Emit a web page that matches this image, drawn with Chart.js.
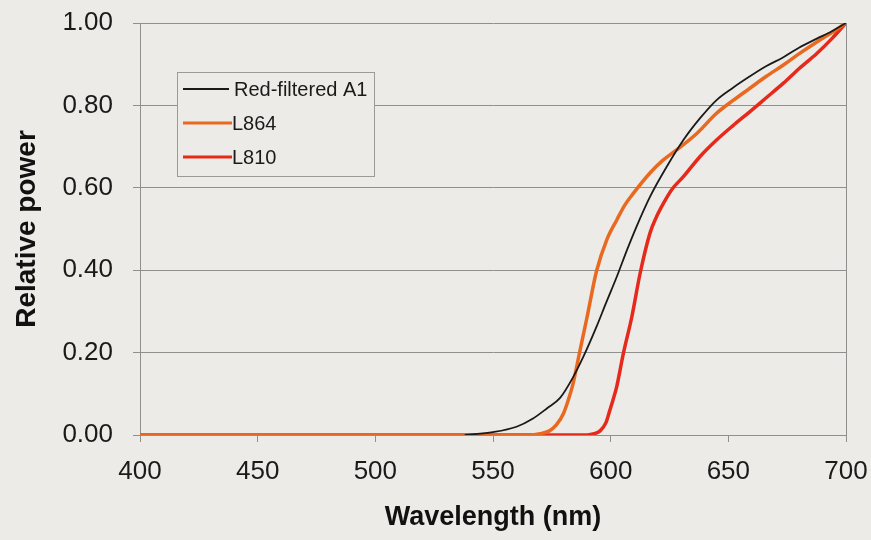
<!DOCTYPE html>
<html>
<head>
<meta charset="utf-8">
<script src="https://cdn.jsdelivr.net/npm/chart.js@4/dist/chart.umd.min.js"></script>
<style>
  html, body { margin: 0; padding: 0; background: #ecebe7; }
  #wrap { width: 871px; height: 540px; position: relative; }
</style>
</head>
<body>
<div id="wrap"><canvas id="c" width="871" height="540"></canvas></div>
<script>
// ---- data ----
const seriesNames = ["Red-filtered A1", "L864", "L810"];
const seriesColors = ["#1a1a1a", "#e8691f", "#e52a1c"];

const a1X = [538, 550, 560, 567, 573, 578.5, 584, 588.4, 594, 598, 602.6, 607, 611, 616.7, 623.8, 630.9, 638, 645, 652, 659, 666, 673.4, 680, 687.6, 694, 700];
const a1Y = [0, 0.007, 0.02, 0.04, 0.065, 0.09, 0.14, 0.19, 0.263, 0.32, 0.384, 0.45, 0.506, 0.578, 0.651, 0.716, 0.769, 0.813, 0.843, 0.870, 0.895, 0.917, 0.94, 0.962, 0.98, 1.0];

const l864X = [400, 565, 570, 574, 577, 580, 582, 584, 587, 590, 594, 598.3, 602.6, 606, 609.7, 616.7, 622, 628, 636.6, 645, 652, 659, 666, 673.4, 680, 687.6, 694, 700];
const l864Y = [0, 0, 0.003, 0.01, 0.025, 0.053, 0.085, 0.124, 0.206, 0.287, 0.398, 0.473, 0.522, 0.558, 0.587, 0.636, 0.666, 0.692, 0.732, 0.781, 0.812, 0.841, 0.870, 0.898, 0.925, 0.954, 0.977, 1.0];

const l810X = [400, 590, 593, 595.5, 598, 599.7, 601, 602.6, 605.4, 609, 612.5, 616.7, 619.5, 622.4, 626, 630.9, 638, 645, 652, 659.2, 666, 673.4, 680, 687.6, 694, 700];
const l810Y = [0, 0, 0.003, 0.01, 0.03, 0.061, 0.085, 0.118, 0.198, 0.287, 0.392, 0.49, 0.53, 0.562, 0.596, 0.627, 0.676, 0.716, 0.751, 0.785, 0.818, 0.854, 0.889, 0.926, 0.962, 1.0];

const xTicks = [400, 450, 500, 550, 600, 650, 700];
const yTicks = [0, 0.2, 0.4, 0.6, 0.8, 1.0];

const xTitle = "Wavelength (nm)";
const yTitle = "Relative power";

// ---- build ----
function pts(xs, ys) { return xs.map((x, i) => ({ x: x, y: ys[i] })); }

const FONT = "'Liberation Sans', Arial, sans-serif";
const gridColor = "#8f8f8f";
const bg = "#ecebe7";

const datasets = [
  { label: seriesNames[0], data: pts(a1X, a1Y), borderColor: seriesColors[0], borderWidth: 1.8 },
  { label: seriesNames[1], data: pts(l864X, l864Y), borderColor: seriesColors[1], borderWidth: 3.5 },
  { label: seriesNames[2], data: pts(l810X, l810Y), borderColor: seriesColors[2], borderWidth: 3.5 }
].map(d => Object.assign(d, { pointRadius: 0, fill: false, tension: 0.3, cubicInterpolationMode: 'monotone' }));

function zeroPad(scale) {
  scale.paddingTop = 0; scale.paddingBottom = 0; scale.paddingLeft = 0; scale.paddingRight = 0;
}

const framePlugin = {
  id: 'frame',
  afterDatasetsDraw(chart) {
    const { ctx, chartArea: a } = chart;
    ctx.save();
    ctx.strokeStyle = gridColor;
    ctx.lineWidth = 1;
    ctx.beginPath();
    ctx.moveTo(a.right + 0.5, a.top);
    ctx.lineTo(a.right + 0.5, a.bottom);
    ctx.stroke();
    ctx.restore();
  },
  afterDraw(chart) {
    const { ctx } = chart;
    const bx = 177, by = 72, bw = 197, bh = 104;
    ctx.save();
    ctx.fillStyle = bg;
    ctx.fillRect(bx, by, bw, bh);
    ctx.strokeStyle = "#9a9a9a";
    ctx.lineWidth = 1;
    ctx.strokeRect(bx + 0.5, by + 0.5, bw, bh);
    const rows = [89, 123, 157];
    chart.data.datasets.forEach((ds, i) => {
      const y = rows[i];
      ctx.strokeStyle = ds.borderColor;
      ctx.lineWidth = i === 0 ? 1.8 : 3.2;
      ctx.beginPath();
      ctx.moveTo(183, y);
      ctx.lineTo(i === 0 ? 229 : 232, y);
      ctx.stroke();
      ctx.fillStyle = "#1a1a1a";
      ctx.font = "20px " + FONT;
      ctx.textBaseline = "middle";
      ctx.textAlign = "left";
      ctx.fillText(ds.label, i === 0 ? 234 : 232, y + 1);
    });
    ctx.restore();
  }
};

new Chart(document.getElementById('c'), {
  type: 'line',
  data: { datasets: datasets },
  options: {
    responsive: false,
    animation: false,
    devicePixelRatio: 1,
    layout: { padding: { top: 23, right: 25, left: 0, bottom: 0 } },
    plugins: { legend: { display: false }, tooltip: { enabled: false } },
    scales: {
      x: {
        type: 'linear',
        min: 400, max: 700,
        afterBuildTicks(scale) { scale.ticks = xTicks.map(v => ({ value: v })); },
        afterFit(scale) { scale.height = 105; zeroPad(scale); },
        grid: { display: true, drawOnChartArea: false, drawTicks: true, tickLength: 7, color: gridColor, lineWidth: 1 },
        border: { display: true, color: gridColor, width: 1 },
        ticks: { color: "#1a1a1a", font: { family: FONT, size: 26 }, padding: 14, maxRotation: 0, autoSkip: false, callback: v => String(v) },
        title: { display: true, text: xTitle, color: "#111", font: { family: FONT, size: 27, weight: 'bold' }, padding: { top: 0, bottom: 6 } }
      },
      y: {
        type: 'linear',
        min: 0, max: 1,
        afterBuildTicks(scale) { scale.ticks = yTicks.map(v => ({ value: v })); },
        afterFit(scale) { scale.width = 140; zeroPad(scale); },
        grid: { display: true, drawTicks: true, tickLength: 7, color: gridColor, lineWidth: 1 },
        border: { display: true, color: gridColor, width: 1 },
        ticks: { color: "#1a1a1a", font: { family: FONT, size: 26 }, padding: 20, callback: v => Number(v).toFixed(2) },
        title: { display: true, text: yTitle, color: "#111", font: { family: FONT, size: 28, weight: 'bold' }, padding: { top: 10, bottom: 0 } }
      }
    }
  },
  plugins: [framePlugin]
});
</script>
</body>
</html>
